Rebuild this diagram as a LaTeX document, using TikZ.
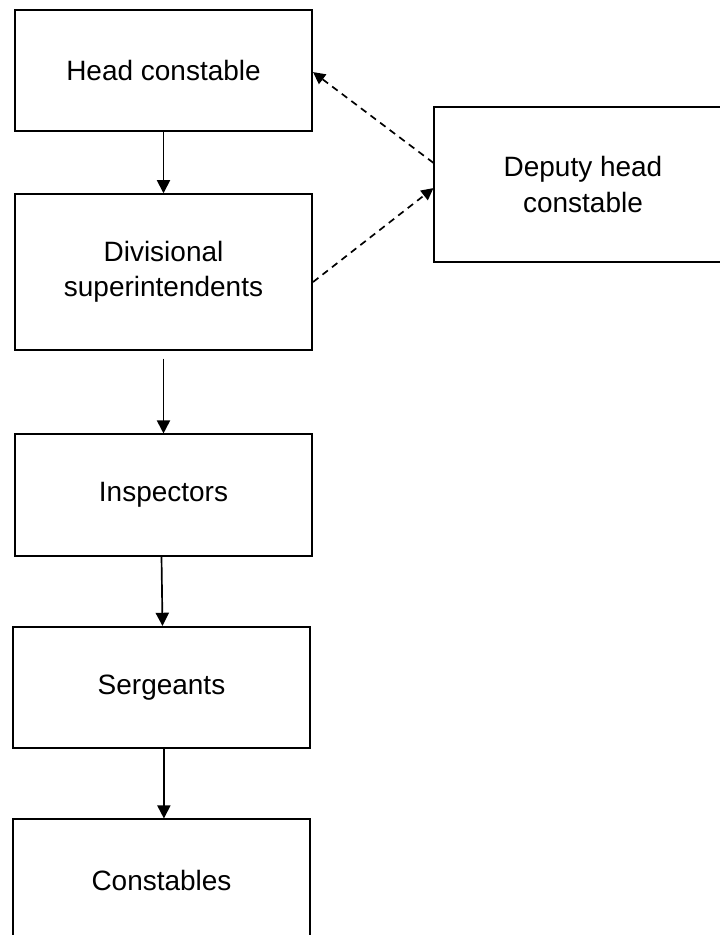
\documentclass[tikz,border=0pt]{standalone}
\usepackage{fontspec}
\setmainfont{Liberation Sans}
\usetikzlibrary{arrows.meta, positioning}

\begin{document}
\begin{tikzpicture}[x=0.025cm, y=-0.025cm, line cap=butt, line join=miter,
        rank/.style={draw, line width=1.3pt, minimum width=7.43cm, minimum height=3.03cm,
            align=center, font=\fontsize{19.9}{24.9}\selectfont, inner sep=0pt},
        tall/.style={rank, minimum height=3.89cm},
        down/.style={line width=1.2pt, -{Triangle[length=0.33cm, width=0.33cm]}},
        side/.style={line width=1.2pt, dash pattern=on 0.17cm off 0.13cm,
            -{Triangle[length=0.3cm, width=0.3cm]}}]
            % page
            \clip (0,0) rectangle (720,935);

            % chain of ranks
            \node[rank] (head)  at (163.5,70.5) {Head constable};
            \node[tall] (div)   at (163.5,272)  {Divisional\\superintendents};
            \node[rank] (insp)  at (163.5,495)  {Inspectors};
            \node[rank] (serg)  at (161.5,687.5) {Sergeants};
            \node[rank] (const) at (161.5,880)  {Constables};

            % deputy on the side
            \node[tall] (deputy) at (583,184.5) {Deputy head\\constable};

            % solid arrows down the chain
            \draw[down] (head.south) -- (div.north);
            \draw[down, shorten <=0.2cm] (div.south) -- (insp.north);
            \draw[down] ([xshift=-0.05cm]insp.south) -- ([xshift=0.025cm]serg.north);
            \draw[down] ([xshift=0.06cm]serg.south) -- ([xshift=0.06cm]const.north);

            % dashed links to the deputy
            \draw[side] ([yshift=0.54cm]deputy.west) -- ([yshift=-0.04cm]head.east);
            \draw[side] ([yshift=-0.25cm]div.east) -- ([yshift=-0.09cm]deputy.west);
        \end{tikzpicture}
\end{document}
